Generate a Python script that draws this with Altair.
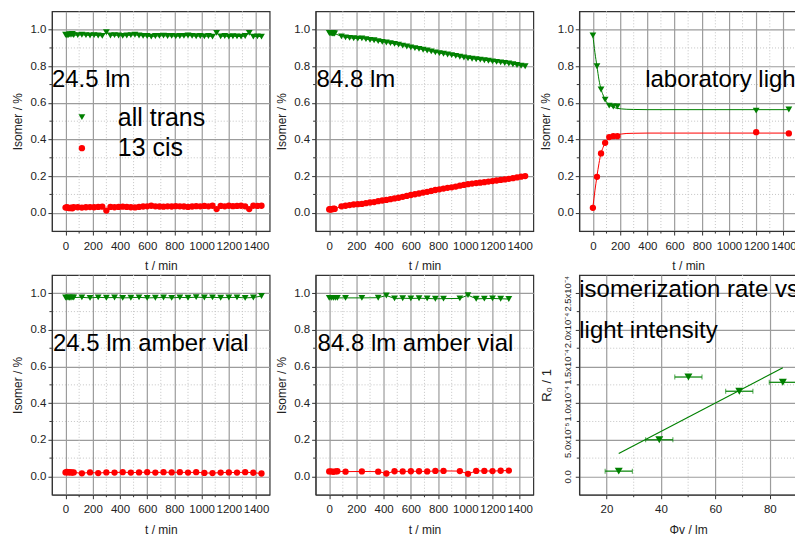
import altair as alt
import pandas as pd

FONT = 'Liberation Sans'
GREEN = '#008000'
RED = '#ff0000'

# ---------------- data ----------------
# Panel 1: 24.5 lm
t1 = [0, 10, 20, 30, 40, 50, 60,
      90, 120, 150, 180, 210, 240, 270, 300, 330, 360,
      390, 420, 450, 480, 510, 540, 570, 600, 630, 660,
      690, 720, 750, 780, 810, 840, 870, 900, 930, 960,
      990, 1020, 1050, 1080, 1110, 1140, 1170, 1200, 1230, 1260,
      1290, 1320, 1350, 1380, 1410, 1440]
trans1 = [0.972, 0.968, 0.970, 0.975, 0.972, 0.976, 0.970,
          0.970, 0.972, 0.970, 0.968, 0.970, 0.968, 0.966, 0.986, 0.968, 0.970,
          0.968, 0.966, 0.968, 0.970, 0.972, 0.968, 0.966, 0.965, 0.962, 0.965,
          0.966, 0.967, 0.965, 0.966, 0.964, 0.965, 0.966, 0.968, 0.966, 0.964,
          0.965, 0.963, 0.965, 0.962, 0.982, 0.963, 0.965, 0.962, 0.964, 0.963,
          0.962, 0.965, 0.982, 0.962, 0.963, 0.962]
cis1 = [0.028, 0.030, 0.027, 0.025, 0.028, 0.024, 0.030,
        0.030, 0.028, 0.030, 0.031, 0.030, 0.032, 0.033, 0.012, 0.032, 0.030,
        0.032, 0.033, 0.032, 0.030, 0.029, 0.032, 0.034, 0.035, 0.038, 0.035,
        0.034, 0.033, 0.035, 0.034, 0.036, 0.035, 0.034, 0.032, 0.034, 0.036,
        0.035, 0.037, 0.035, 0.038, 0.020, 0.037, 0.035, 0.038, 0.036, 0.037,
        0.038, 0.035, 0.020, 0.038, 0.037, 0.038]

# Panel 2: 84.8 lm
t2 = [0, 5, 10, 15, 20, 25, 30, 35, 40,
      90, 120, 150, 180, 210, 240, 270, 300, 330, 360,
      390, 420, 450, 480, 510, 540, 570, 600, 630, 660,
      690, 720, 750, 780, 810, 840, 870, 900, 930, 960,
      990, 1020, 1050, 1080, 1110, 1140, 1170, 1200, 1230, 1260,
      1290, 1320, 1350, 1380, 1410, 1440]
trans2 = [0.982, 0.980, 0.982, 0.981, 0.980, 0.979, 0.980, 0.978, 0.979,
          0.963, 0.958, 0.955, 0.953, 0.951, 0.952, 0.948, 0.944, 0.942, 0.937,
          0.933, 0.930, 0.926, 0.922, 0.918, 0.913, 0.908, 0.903, 0.899, 0.895,
          0.890, 0.886, 0.881, 0.876, 0.872, 0.868, 0.864, 0.861, 0.857, 0.852,
          0.848, 0.844, 0.841, 0.838, 0.836, 0.833, 0.830, 0.827, 0.824, 0.821,
          0.818, 0.815, 0.811, 0.807, 0.803, 0.800]
cis2 = [0.018, 0.020, 0.018, 0.019, 0.020, 0.021, 0.020, 0.022, 0.021,
        0.035, 0.038, 0.042, 0.045, 0.047, 0.048, 0.052, 0.056, 0.058, 0.063,
        0.067, 0.070, 0.074, 0.078, 0.082, 0.087, 0.092, 0.097, 0.101, 0.105,
        0.110, 0.114, 0.119, 0.124, 0.128, 0.132, 0.136, 0.139, 0.143, 0.148,
        0.152, 0.156, 0.159, 0.162, 0.164, 0.167, 0.170, 0.173, 0.176, 0.179,
        0.182, 0.185, 0.189, 0.193, 0.197, 0.200]

# Panel 3: laboratory light (measured points + fitted curves)
t3 = [0, 30, 60, 90, 120, 150, 180, 1200, 1440]
trans3 = [0.969, 0.800, 0.673, 0.618, 0.585, 0.580, 0.580, 0.558, 0.564]
cis3 = [0.027, 0.196, 0.324, 0.382, 0.413, 0.418, 0.418, 0.440, 0.433]
t3_fit = [0, 15, 30, 45, 60, 75, 90, 105, 120, 150, 180, 210, 250, 300, 400, 1440]
trans3_fit = [0.970, 0.875, 0.800, 0.725, 0.675, 0.643, 0.618, 0.600, 0.588,
              0.576, 0.570, 0.567, 0.565, 0.564, 0.563, 0.563]
cis3_fit = [0.030, 0.120, 0.200, 0.270, 0.325, 0.357, 0.382, 0.398, 0.410,
            0.420, 0.426, 0.430, 0.433, 0.434, 0.435, 0.435]

# Panel 4: 24.5 lm amber vial
t4 = [0, 10, 20, 30, 40, 50, 60,
      120, 180, 240, 300, 360, 420, 480, 540, 600, 660,
      720, 780, 840, 900, 960, 1020, 1080, 1140, 1200, 1260,
      1320, 1380, 1440]
trans4 = [0.977, 0.975, 0.977, 0.976, 0.975, 0.978, 0.977,
          0.978, 0.975, 0.978, 0.976, 0.977, 0.975, 0.976, 0.978, 0.975, 0.976,
          0.977, 0.975, 0.978, 0.976, 0.979, 0.977, 0.978, 0.976, 0.977, 0.978,
          0.975, 0.977, 0.985]
cis4 = [0.022, 0.024, 0.022, 0.023, 0.022, 0.021, 0.022,
        0.017, 0.022, 0.018, 0.022, 0.021, 0.023, 0.021, 0.022, 0.023, 0.021,
        0.023, 0.022, 0.023, 0.021, 0.023, 0.019, 0.018, 0.021, 0.022, 0.021,
        0.023, 0.020, 0.016]

# Panel 5: 84.8 lm amber vial
t5 = [0, 15, 30, 45, 60, 120, 240, 360, 420, 480, 540, 600,
      660, 720, 780, 840, 960, 1020, 1080, 1140, 1200, 1260, 1320]
trans5 = [0.975, 0.975, 0.975, 0.975, 0.975, 0.975, 0.975, 0.976, 0.988, 0.972, 0.973, 0.972,
          0.973, 0.972, 0.970, 0.971, 0.972, 0.990, 0.970, 0.971, 0.972, 0.970, 0.969]
cis5 = [0.027, 0.027, 0.025, 0.027, 0.028, 0.026, 0.027, 0.026, 0.016, 0.028, 0.027, 0.028,
        0.028, 0.027, 0.030, 0.030, 0.029, 0.014, 0.030, 0.030, 0.029, 0.031, 0.032]

# Panel 6: isomerization rate vs light intensity
phi6 = [24.5, 39.4, 50.1, 68.8, 84.8]
rate6 = [0.72e-5, 5.0e-5, 13.57e-5, 11.63e-5, 12.85e-5]
phi_err6 = [5.0, 5.0, 5.0, 5.0, 5.0]
fit_phi6 = [24.5, 84.8]
fit_rate6 = [3.12e-5, 14.84e-5]

X_TICKS = [0, 200, 400, 600, 800, 1000, 1200, 1400]
X_MINOR = [100, 300, 500, 700, 900, 1100, 1300]
Y_TICKS = [0.0, 0.2, 0.4, 0.6, 0.8, 1.0]
Y_MINOR = [0.1, 0.3, 0.5, 0.7, 0.9]
R_TICKS = [0.0, 5e-5, 1e-4, 1.5e-4, 2e-4, 2.5e-4]
R_LABELS = ['0.0', '5.0x10\u207b\u2075', '1.0x10\u207b\u2074', '1.5x10\u207b\u2074',
            '2.0x10\u207b\u2074', '2.5x10\u207b\u2074']
R_MINOR = [2.5e-5, 7.5e-5, 1.25e-4, 1.75e-4, 2.25e-4]
PHI_TICKS = [20, 40, 60, 80]
PHI_MINOR = [30, 50, 70]

LEGEND_LABELS = ['all trans', '13 cis']

W, H = 218, 220
MINOR_STYLE = dict(color='#c4c4c4', strokeDash=[1, 2], strokeWidth=1)
TICK_STYLE = dict(color='#333333', strokeWidth=1)


def text_layer(s, x, y, size=24):
    return alt.Chart(pd.DataFrame({'s': [s]})).mark_text(
        align='left', baseline='alphabetic', fontSize=size, font=FONT, color='black', clip=True
    ).encode(x=alt.value(x), y=alt.value(y), text='s:N')


def minor_layers(xvals, yvals, X, Y, xf, yf):
    return [
        alt.Chart(pd.DataFrame({xf: xvals})).mark_rule(**MINOR_STYLE).encode(x=X(xf)),
        alt.Chart(pd.DataFrame({yf: yvals})).mark_rule(**MINOR_STYLE).encode(y=Y(yf)),
        alt.Chart(pd.DataFrame({xf: xvals})).mark_rule(**TICK_STYLE).encode(
            x=X(xf), y=alt.value(H), y2=alt.value(H + 2.5)),
        alt.Chart(pd.DataFrame({yf: yvals})).mark_rule(**TICK_STYLE).encode(
            y=Y(yf), x=alt.value(0), x2=alt.value(-2.5)),
    ]


def isomer_panel(tt, vt, tc, vc, label, lx, ly, lines=True, fit=None, legend=False):
    xs = alt.Scale(domain=[-100, 1500], nice=False, zero=False)
    ys = alt.Scale(domain=[-0.1, 1.1], nice=False, zero=False)
    xax = alt.Axis(values=X_TICKS, format='d', grid=True, labelPadding=5, titlePadding=9)
    yax = alt.Axis(values=Y_TICKS, format='.1f', grid=True, labelPadding=2, titlePadding=5)

    def X(f):
        return alt.X(f + ':Q', scale=xs, axis=xax, title='t / min')

    def Y(f):
        return alt.Y(f + ':Q', scale=ys, axis=yax, title='Isomer / %')

    df_t = pd.DataFrame({'t': tt, 'v': vt})
    df_c = pd.DataFrame({'t': tc, 'v': vc})
    layers = minor_layers(X_MINOR, Y_MINOR, X, Y, 't', 'v')
    if fit is not None:
        ft, fv_t, fv_c = fit
        layers.append(alt.Chart(pd.DataFrame({'t': ft, 'v': fv_t})).mark_line(
            color=GREEN, strokeWidth=1, interpolate='monotone').encode(x=X('t'), y=Y('v')))
        layers.append(alt.Chart(pd.DataFrame({'t': ft, 'v': fv_c})).mark_line(
            color=RED, strokeWidth=1, interpolate='monotone').encode(x=X('t'), y=Y('v')))
    elif lines:
        layers.append(alt.Chart(df_t).mark_line(color=GREEN, strokeWidth=1).encode(x=X('t'), y=Y('v')))
        layers.append(alt.Chart(df_c).mark_line(color=RED, strokeWidth=1).encode(x=X('t'), y=Y('v')))
    layers.append(alt.Chart(df_t).mark_point(shape='triangle-down', filled=True, size=46,
                                              color=GREEN, opacity=1, strokeWidth=0)
                  .encode(x=X('t'), y=Y('v')))
    layers.append(alt.Chart(df_c).mark_circle(size=40, color=RED, opacity=1)
                  .encode(x=X('t'), y=Y('v')))
    layers.append(text_layer(label, lx, ly))
    if legend:
        layers.append(alt.Chart(pd.DataFrame({'s': [LEGEND_LABELS[0]]})).mark_point(
            shape='triangle-down', filled=True, size=46, color=GREEN, opacity=1, strokeWidth=0
        ).encode(x=alt.value(30), y=alt.value(106)))
        layers.append(alt.Chart(pd.DataFrame({'s': [LEGEND_LABELS[1]]})).mark_circle(
            size=40, color=RED, opacity=1).encode(x=alt.value(30), y=alt.value(137)))
        layers.append(text_layer(LEGEND_LABELS[0], 66, 115, size=25))
        layers.append(text_layer(LEGEND_LABELS[1], 66, 145, size=25))
    return alt.layer(*layers).properties(width=W, height=H)


def rate_panel():
    xs = alt.Scale(domain=[10, 90], nice=False, zero=False)
    ys = alt.Scale(domain=[-0.25e-4, 2.75e-4], nice=False, zero=False)
    expr = "round(datum.value*1e5) == 0 ? '%s' : round(datum.value*1e5) == 5 ? '%s' : " \
           "round(datum.value*1e5) == 10 ? '%s' : round(datum.value*1e5) == 15 ? '%s' : " \
           "round(datum.value*1e5) == 20 ? '%s' : '%s'" % tuple(R_LABELS)
    xax = alt.Axis(values=PHI_TICKS, format='d', grid=True, labelPadding=5, titlePadding=9)
    yax = alt.Axis(values=R_TICKS, grid=True, labelExpr=expr, labelAngle=270,
                   labelAlign='center', labelBaseline='bottom', labelFontSize=9.5,
                   labelPadding=3, titlePadding=9, titleFontSize=13)

    def X(f):
        return alt.X(f + ':Q', scale=xs, axis=xax, title='\u03a6v / lm')

    def Y(f):
        return alt.Y(f + ':Q', scale=ys, axis=yax, title='R\u2080 / 1')

    df = pd.DataFrame({'phi': phi6, 'r': rate6,
                       'lo': [p - e for p, e in zip(phi6, phi_err6)],
                       'hi': [p + e for p, e in zip(phi6, phi_err6)]})
    layers = minor_layers(PHI_MINOR, R_MINOR, X, Y, 'phi', 'r') + [
        alt.Chart(pd.DataFrame({'phi': fit_phi6, 'r': fit_rate6})).mark_line(
            color=GREEN, strokeWidth=1.2).encode(x=X('phi'), y=Y('r')),
        alt.Chart(df).mark_rule(color=GREEN, strokeWidth=1.2).encode(
            x=X('lo'), x2='hi:Q', y=Y('r')),
        alt.Chart(df).mark_tick(color=GREEN, orient='vertical', size=5, thickness=1).encode(
            x=X('lo'), y=Y('r')),
        alt.Chart(df).mark_tick(color=GREEN, orient='vertical', size=5, thickness=1).encode(
            x=X('hi'), y=Y('r')),
        alt.Chart(df).mark_point(shape='triangle-down', filled=True, size=64, color=GREEN,
                                 opacity=1, strokeWidth=0).encode(x=X('phi'), y=Y('r')),
        text_layer('isomerization rate vs', 0, 22),
        text_layer('light intensity', 0, 63),
    ]
    return alt.layer(*layers).properties(width=W, height=H)


p1 = isomer_panel(t1, trans1, t1, cis1, '24.5 lm', 0, 76, legend=True)
p2 = isomer_panel(t2, trans2, t2, cis2, '84.8 lm', 1, 76)
p3 = isomer_panel(t3, trans3, t3, cis3, 'laboratory light', 66, 76,
                  fit=(t3_fit, trans3_fit, cis3_fit))
p4 = isomer_panel(t4, trans4, t4, cis4, '24.5 lm amber vial', 1, 76)
p5 = isomer_panel(t5, trans5, t5, cis5, '84.8 lm amber vial', 2, 76)
p6 = rate_panel()

chart = alt.concat(p1, p2, p3, p4, p5, p6, columns=3,
                   spacing={'row': 44, 'column': 46}, bounds='flush').properties(
    padding={'left': 11, 'top': 9, 'right': -4, 'bottom': 0},
    background='white'
).configure_axis(
    labelFont=FONT, titleFont=FONT, labelFontSize=11.5, titleFontSize=12,
    labelColor='#222222', titleColor='#222222', titleFontWeight='normal',
    domainColor='#333333', tickColor='#333333', gridColor='#9c9c9c', gridWidth=1.2,
    gridOpacity=1, tickSize=4
).configure_view(stroke='#333333', strokeWidth=1.2)

chart.save('out.html', embed_options={'renderer': 'svg', 'actions': False})
